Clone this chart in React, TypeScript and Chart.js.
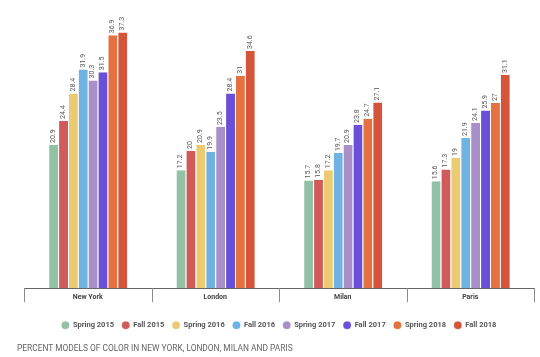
import React, { useEffect, useRef } from "react";
import { Chart, registerables } from "chart.js";

Chart.register(...registerables);

const categories = ["New York", "London", "Milan", "Paris"];
const seriesNames = [
  "Spring 2015",
  "Fall 2015",
  "Spring 2016",
  "Fall 2016",
  "Spring 2017",
  "Fall 2017",
  "Spring 2018",
  "Fall 2018",
];
const spring2015 = [20.9, 17.2, 15.7, 15.6];
const fall2015 = [24.4, 20, 15.8, 17.3];
const spring2016 = [28.4, 20.9, 17.2, 19];
const fall2016 = [31.9, 19.9, 19.7, 21.9];
const spring2017 = [30.3, 23.5, 20.9, 24.1];
const fall2017 = [31.5, 28.4, 23.8, 25.9];
const spring2018 = [36.9, 31, 24.7, 27];
const fall2018 = [37.3, 34.6, 27.1, 31.1];
const seriesValues = [
  spring2015,
  fall2015,
  spring2016,
  fall2016,
  spring2017,
  fall2017,
  spring2018,
  fall2018,
];
const colors = [
  "#93c1a5",
  "#d15b5b",
  "#ebcb72",
  "#6fb3e2",
  "#a98fc7",
  "#6a50d8",
  "#e4713f",
  "#d4553a",
];
const titleText = "PERCENT MODELS OF COLOR IN NEW YORK, LONDON, MILAN AND PARIS";

const valueLabels = {
  id: "valueLabels",
  afterDatasetsDraw(chart: any) {
    const ctx = chart.ctx;
    ctx.save();
    ctx.font = "7px Roboto";
    ctx.fillStyle = "#555";
    ctx.textAlign = "left";
    ctx.textBaseline = "middle";
    chart.data.datasets.forEach((ds: any, i: number) => {
      const meta = chart.getDatasetMeta(i);
      meta.data.forEach((el: any, j: number) => {
        ctx.save();
        ctx.translate(el.x, el.y - 2);
        ctx.rotate(-Math.PI / 2);
        ctx.fillText(String(ds.data[j]), 0, 0);
        ctx.restore();
      });
    });
    ctx.restore();
  },
};

const categoryDividers = {
  id: "categoryDividers",
  afterDraw(chart: any) {
    const ctx = chart.ctx;
    const xs = chart.scales.x;
    const n = chart.data.labels.length;
    const step = (xs.right - xs.left) / n;
    const y0 = chart.chartArea.bottom;
    ctx.save();
    ctx.strokeStyle = "#8a8a8a";
    ctx.lineWidth = 1;
    for (let i = 0; i <= n; i++) {
      const x = Math.round(xs.left + i * step) + 0.5;
      ctx.beginPath();
      ctx.moveTo(x, y0);
      ctx.lineTo(x, y0 + 14);
      ctx.stroke();
    }
    ctx.restore();
  },
};

export default function App() {
  const ref = useRef<HTMLCanvasElement>(null);
  useEffect(() => {
    if (!ref.current) return;
    const chart = new Chart(ref.current, {
      type: "bar",
      data: {
        labels: categories,
        datasets: seriesNames.map((name, i) => ({
          label: name,
          data: seriesValues[i],
          backgroundColor: colors[i],
          borderColor: "#ffffff",
          borderWidth: { top: 0, left: 1, right: 0, bottom: 0 },
          categoryPercentage: 0.62,
          barPercentage: 1,
        })),
      },
      options: {
        animation: false,
        responsive: false,
        maintainAspectRatio: false,
        layout: { padding: { left: 24, right: 6, top: 14, bottom: 18 } },
        scales: {
          y: { display: false, min: 0, max: 40 },
          x: {
            offset: true,
            grid: {
              offset: true,
              display: false,
              drawTicks: false,
            },
            border: { display: true, color: "#666", width: 1 },
            ticks: {
              padding: 5,
              color: "#444",
              font: { family: "Roboto", size: 7, weight: "bold" },
            },
            afterFit: (scale: any) => {
              scale.height += 7;
            },
          },
        },
        plugins: {
          legend: {
            position: "bottom",
            labels: {
              usePointStyle: true,
              pointStyle: "circle",
              boxWidth: 7.5,
              boxHeight: 5.7,
              padding: 8,
              color: "#555",
              font: { family: "Roboto", size: 7.5, weight: "bold" },
            },
          },
          title: { display: false },
          tooltip: { enabled: false },
        },
      },
      plugins: [valueLabels, categoryDividers],
    });
    return () => chart.destroy();
  }, []);
  return (
    <div style={{ position: "fixed", left: 0, top: 0, width: 540, height: 357, background: "#fff" }}>
      <canvas ref={ref} width={540} height={357} style={{ display: "block" }} />
      <div
        style={{
          position: "absolute",
          left: 17,
          top: 341,
          fontFamily: "Roboto",
          fontSize: 8.4,
          color: "#666",
          whiteSpace: "nowrap",
          lineHeight: "14px",
        }}
      >
        {titleText}
      </div>
    </div>
  );
}
